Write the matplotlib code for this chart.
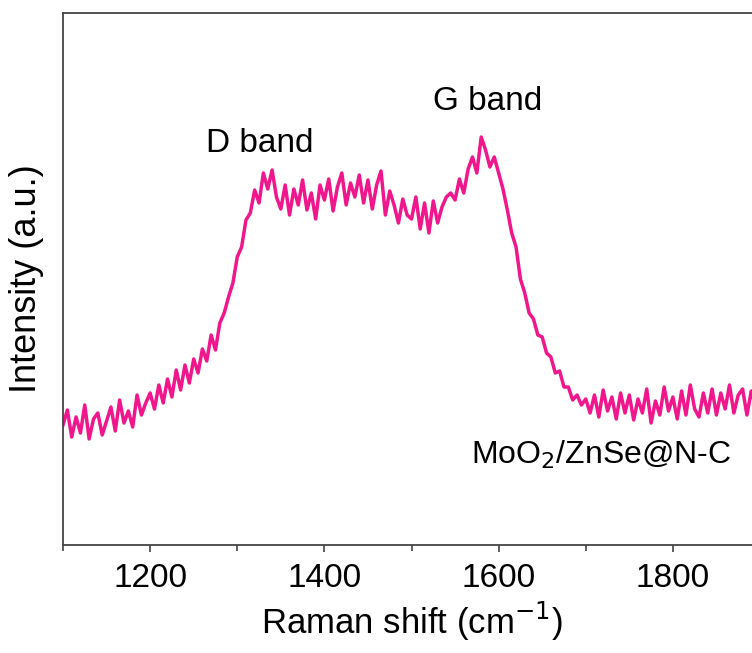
import matplotlib.pyplot as plt
import numpy as np

plt.rcParams['font.family'] = ['Liberation Sans', 'DejaVu Sans']

# Raman shift (cm-1), 5 cm-1 steps
shift = np.arange(1100, 1901, 5)

# intensity (a.u.)
intensity = [
    120, 135, 108, 128, 112, 140, 106, 126, 132, 110,
    124, 138, 114, 145, 122, 134, 118, 150, 130, 142,
    152, 136, 160, 142, 166, 148, 175, 155, 180, 162,
    186, 172, 196, 184, 210, 195, 222, 232, 248, 262,
    288, 298, 325, 332, 355, 342, 372, 356, 375, 348,
    336, 360, 330, 356, 340, 365, 335, 352, 326, 360,
    345, 366, 334, 358, 372, 340, 362, 348, 370, 342,
    365, 336, 360, 374, 330, 354, 340, 322, 346, 330,
    326, 348, 316, 342, 312, 344, 322, 338, 348, 352,
    345, 366, 352, 376, 388, 372, 408, 395, 378, 388,
    372, 356, 335, 312, 298, 266, 252, 232, 226, 210,
    208, 192, 188, 172, 174, 158, 158, 145, 150, 140,
    146, 132, 150, 128, 155, 134, 148, 126, 152, 132,
    150, 125, 146, 132, 156, 122, 144, 130, 158, 134,
    148, 126, 154, 130, 160, 136, 128, 152, 132, 156,
    130, 152, 136, 160, 132, 150, 156, 130, 154, 138,
    148,
]

fig = plt.figure(figsize=(7.52, 6.53), dpi=100)
ax = fig.add_axes([63/752, 108/653, 697/752, 532/653])

ax.plot(shift, intensity, color='#F0168C', lw=2.5)

ax.set_xlim(1100, 1900)
ax.set_ylim(0, 532)
ax.set_xticks([1200, 1400, 1600, 1800])
ax.set_xticks(np.arange(1100, 1901, 100), minor=True)
ax.set_yticks([])
ax.tick_params(axis='x', which='major', direction='out', length=5, width=1.2,
               labelsize=24, pad=8, color='#444444')
ax.tick_params(axis='x', which='minor', direction='out', length=4, width=1.2,
               color='#444444')
for s in ax.spines.values():
    s.set_linewidth(1.3)
    s.set_color('#444444')

ax.set_xlabel('Raman shift (cm$^{-1}$)', fontsize=25, labelpad=4)
ax.set_ylabel('Intensity (a.u.)', fontsize=26, labelpad=14)

ax.text(1326, 402, 'D band', fontsize=24, ha='center', va='center')
ax.text(1587, 444, 'G band', fontsize=24, ha='center', va='center')
ax.text(1718, 90, 'MoO$_2$/ZnSe@N-C', fontsize=23, ha='center', va='center')

fig.savefig('out.png', dpi=100)
